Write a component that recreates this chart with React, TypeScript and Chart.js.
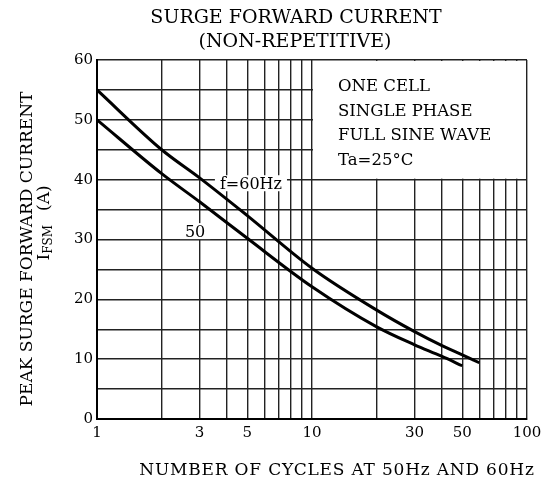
import { useEffect, useRef } from "react";
import { Chart, registerables } from "chart.js";

Chart.register(...registerables);

// ---- data ----
const cycles60 = [1, 2, 3, 5, 10, 20, 30, 40, 50, 60];
const current60 = [55, 45, 40.3, 34, 25.2, 18.2, 14.6, 12.3, 10.7, 9.4];
const cycles50 = [1, 2, 3, 5, 10, 20, 30, 40, 50];
const current50 = [50, 41, 36.3, 30.2, 22.1, 15.4, 12.4, 10.5, 8.9];

const xGridValues = [1, 2, 3, 4, 5, 6, 7, 8, 9, 10, 20, 30, 40, 50, 60, 70, 80, 90, 100];
const xTickLabels = [1, 3, 5, 10, 30, 50, 100];
const yTickLabels = [0, 10, 20, 30, 40, 50, 60];

const titleLines = ["SURGE FORWARD CURRENT", "(NON-REPETITIVE)"];
const xTitle = "NUMBER OF CYCLES AT 50Hz AND 60Hz";
const yTitleLine1 = "PEAK SURGE FORWARD CURRENT";
const yTitleMain = "I";
const yTitleSub = "FSM";
const yTitleUnit = "(A)";
const insetLines = ["ONE CELL", "SINGLE PHASE", "FULL SINE WAVE", "Ta=25°C"];
const insetBoxX = [10, 100];
const insetBoxY = [40, 60];
const curveLabelText = ["f=60Hz", "50"];
const curveLabelX = [5.2, 2.86];
const curveLabelY = [38.4, 30.4];

const SERIF = "'DejaVu Serif', 'Liberation Serif', serif";
const INK = "#000";

const decorPlugin = {
  id: "decor",
  beforeDatasetsDraw(chart: any) {
    const { ctx, scales } = chart;
    const x = scales.x;
    const y = scales.y;
    ctx.save();
    // inset box
    const bx0 = x.getPixelForValue(insetBoxX[0]);
    const bx1 = x.getPixelForValue(insetBoxX[1]);
    const by0 = y.getPixelForValue(insetBoxY[1]);
    const by1 = y.getPixelForValue(insetBoxY[0]);
    ctx.fillStyle = "#fff";
    ctx.fillRect(bx0 + 1, by0 + 1, bx1 - bx0 - 2, by1 - by0 - 2);
    ctx.fillStyle = INK;
    ctx.font = `16.5px ${SERIF}`;
    ctx.textAlign = "left";
    ctx.textBaseline = "alphabetic";
    insetLines.forEach((t, i) => ctx.fillText(t, bx0 + 26, by0 + 31 + i * 24.7));
    // curve labels
    ctx.font = `16px ${SERIF}`;
    ctx.textAlign = "center";
    curveLabelText.forEach((t, i) => {
      const px = x.getPixelForValue(curveLabelX[i]);
      const py = y.getPixelForValue(curveLabelY[i]);
      const w = ctx.measureText(t).width;
      ctx.fillStyle = "#fff";
      ctx.fillRect(px - w / 2 - 5, py - 14, w + 10, 16);
      ctx.fillStyle = INK;
      ctx.fillText(t, px, py);
    });
    ctx.restore();
  },
  afterDraw(chart: any) {
    const { ctx } = chart;
    ctx.save();
    ctx.fillStyle = INK;
    ctx.textBaseline = "alphabetic";
    ctx.textAlign = "center";
    ctx.font = `19px ${SERIF}`;
    ctx.fillText(titleLines[0], 296, 23);
    ctx.fillText(titleLines[1], 295, 47);
    ctx.save();
    ctx.font = `17px ${SERIF}`;
    (ctx as any).letterSpacing = "0.8px";
    ctx.fillText(xTitle, 337, 475);
    ctx.restore();
    // y title line 1
    ctx.save();
    ctx.translate(32, 249);
    ctx.rotate(-Math.PI / 2);
    ctx.font = `17px ${SERIF}`;
    ctx.fillText(yTitleLine1, 0, 0);
    ctx.restore();
    // y title line 2 with subscript
    ctx.save();
    ctx.translate(49, 223);
    ctx.rotate(-Math.PI / 2);
    ctx.textAlign = "left";
    ctx.font = `17px ${SERIF}`;
    const wI = ctx.measureText(yTitleMain).width;
    const wU = ctx.measureText(yTitleUnit).width;
    ctx.font = `12px ${SERIF}`;
    const wS = ctx.measureText(yTitleSub).width;
    const gap = 14;
    const total = wI + wS + gap + wU;
    let cx = -total / 2;
    ctx.font = `17px ${SERIF}`;
    ctx.fillText(yTitleMain, cx, 0);
    cx += wI;
    ctx.font = `12px ${SERIF}`;
    ctx.fillText(yTitleSub, cx, 3);
    cx += wS + gap;
    ctx.font = `17px ${SERIF}`;
    ctx.fillText(yTitleUnit, cx, 0);
    ctx.restore();
    ctx.restore();
  },
};

export default function App() {
  const ref = useRef<HTMLCanvasElement | null>(null);
  useEffect(() => {
    if (!ref.current) return;
    const chart = new Chart(ref.current, {
      type: "line",
      data: {
        datasets: [
          {
            label: "60Hz",
            data: cycles60.map((c, i) => ({ x: c, y: current60[i] })),
            borderColor: "#000",
            borderWidth: 3,
            pointRadius: 0,
            cubicInterpolationMode: "monotone",
            fill: false,
          },
          {
            label: "50Hz",
            data: cycles50.map((c, i) => ({ x: c, y: current50[i] })),
            borderColor: "#000",
            borderWidth: 3,
            pointRadius: 0,
            cubicInterpolationMode: "monotone",
            fill: false,
          },
        ],
      },
      options: {
        animation: false,
        responsive: false,
        devicePixelRatio: 1,
        layout: { padding: { left: 0, right: 20, top: 60, bottom: 0 } },
        plugins: { legend: { display: false }, tooltip: { enabled: false }, title: { display: false } },
        scales: {
          x: {
            type: "logarithmic",
            min: 1,
            max: 100,
            afterBuildTicks: (s: any) => {
              s.ticks = xGridValues.map((v) => ({ value: v }));
            },
            afterFit: (s: any) => {
              s.height = 63;
            },
            ticks: {
              autoSkip: false,
              maxRotation: 0,
              padding: 5,
              color: INK,
              font: { family: SERIF, size: 15 },
              callback: (v: any) => (xTickLabels.includes(Number(v)) ? String(v) : ""),
            },
            grid: { color: "#222", lineWidth: 1.4, drawTicks: false },
            border: { display: true, color: "#000", width: 2 },
          },
          y: {
            type: "linear",
            min: 0,
            max: 60,
            afterFit: (s: any) => {
              s.width = 97;
            },
            ticks: {
              stepSize: 5,
              padding: 4,
              color: INK,
              font: { family: SERIF, size: 15 },
              callback: (v: any) => (yTickLabels.includes(Number(v)) ? String(v) : ""),
            },
            grid: { color: "#222", lineWidth: 1.4, drawTicks: false },
            border: { display: true, color: "#000", width: 2 },
          },
        },
      },
      plugins: [decorPlugin],
    } as any);
    return () => chart.destroy();
  }, []);
  return (
    <div style={{ position: "fixed", left: 0, top: 0, width: 547, height: 482, background: "#fff" }}>
      <canvas ref={ref} width={547} height={482} style={{ width: 547, height: 482 }} />
    </div>
  );
}
